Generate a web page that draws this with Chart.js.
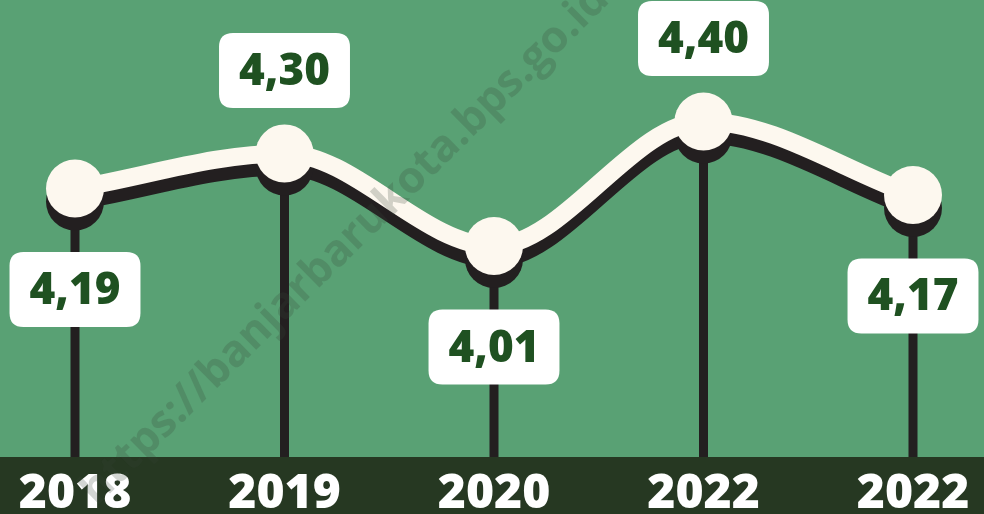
<!DOCTYPE html>
<html>
<head>
<meta charset="utf-8">
<script src="https://cdn.jsdelivr.net/npm/chart.js@4.4.1/dist/chart.umd.min.js"></script>
<style>
  html, body { margin: 0; padding: 0; background: #59a174; }
  #wrap { width: 984px; height: 514px; }
</style>
</head>
<body>
<div id="wrap"><canvas id="grafikCanvas"></canvas></div>
<script>
var tahun = ["2018", "2019", "2020", "2022", "2022"];
var nilai = [4.19, 4.30, 4.01, 4.40, 4.17];

var hijau = "#59a174";
var pita = "#263822";
var krem = "#fdf8ef";
var gelap = "#231f20";
var teksHijau = "#1f5121";
var hurufUtama = "'Open Sans', 'DejaVu Sans', sans-serif";

function formatNilai(v) {
  return v.toFixed(2).replace(".", ",");
}

// latar, pita bawah, garis tegak
var latarPlugin = {
  id: "latar",
  beforeDraw: function (chart) {
    var c = chart.ctx;
    var area = chart.chartArea;
    c.save();
    c.fillStyle = hijau;
    c.fillRect(0, 0, chart.width, chart.height);
    c.fillStyle = pita;
    c.fillRect(0, area.bottom, chart.width, chart.height - area.bottom);
    c.restore();
  },
  beforeDatasetsDraw: function (chart) {
    var c = chart.ctx;
    var area = chart.chartArea;
    var titik = chart.getDatasetMeta(1).data;
    c.save();
    c.strokeStyle = gelap;
    c.lineWidth = 9;
    titik.forEach(function (p) {
      c.beginPath();
      c.moveTo(p.x, p.y);
      c.lineTo(p.x, area.bottom);
      c.stroke();
    });
    c.restore();
  }
};

// bayangan digeser ke bawah
var bayanganPlugin = {
  id: "bayangan",
  beforeDatasetDraw: function (chart, args) {
    if (args.index === 0) {
      chart.ctx.save();
      chart.ctx.translate(0, 13);
    }
  },
  afterDatasetDraw: function (chart, args) {
    if (args.index === 0) {
      chart.ctx.restore();
    }
  }
};

function kotakBulat(c, x, y, w, h, r) {
  c.beginPath();
  c.moveTo(x + r, y);
  c.lineTo(x + w - r, y);
  c.quadraticCurveTo(x + w, y, x + w, y + r);
  c.lineTo(x + w, y + h - r);
  c.quadraticCurveTo(x + w, y + h, x + w - r, y + h);
  c.lineTo(x + r, y + h);
  c.quadraticCurveTo(x, y + h, x, y + h - r);
  c.lineTo(x, y + r);
  c.quadraticCurveTo(x, y, x + r, y);
  c.closePath();
}

var labelPlugin = {
  id: "labelNilai",
  afterDatasetsDraw: function (chart) {
    var c = chart.ctx;
    var titik = chart.getDatasetMeta(1).data;
    c.save();
    c.font = "800 44px " + hurufUtama;
    c.textAlign = "center";
    c.textBaseline = "middle";
    titik.forEach(function (p, i) {
      var kiri = i > 0 ? nilai[i - 1] : -Infinity;
      var kanan = i < nilai.length - 1 ? nilai[i + 1] : -Infinity;
      var puncak = nilai[i] > kiri && nilai[i] > kanan;
      var teks = formatNilai(nilai[i]);
      var w = c.measureText(teks).width + 40;
      var h = 75;
      var cy = puncak ? p.y - 83 : p.y + 101;
      c.fillStyle = "#ffffff";
      kotakBulat(c, p.x - w / 2, cy - h / 2, w, h, 14);
      c.fill();
      c.fillStyle = teksHijau;
      c.fillText(teks, p.x, cy + 2);
    });
    c.restore();
  },
  afterDraw: function (chart) {
    var c = chart.ctx;
    c.save();
    c.translate(345, 245);
    c.rotate(-44.5 * Math.PI / 180);
    c.font = "700 44px " + hurufUtama;
    c.textAlign = "center";
    c.textBaseline = "middle";
    c.fillStyle = "rgba(55, 70, 55, 0.22)";
    c.fillText("https://banjarbarukota.bps.go.id", 0, 0);
    c.restore();
  }
};

var grafik = new Chart(document.getElementById("grafikCanvas"), {
  type: "line",
  data: {
    labels: tahun,
    datasets: [
      {
        label: "bayangan",
        data: nilai,
        order: 2,
        borderColor: gelap,
        borderWidth: 18,
        pointRadius: 29,
        pointBackgroundColor: gelap,
        pointBorderWidth: 0,
        cubicInterpolationMode: "monotone",
        clip: false
      },
      {
        label: "nilai",
        data: nilai,
        order: 1,
        borderColor: krem,
        borderWidth: 18,
        pointRadius: 29,
        pointBackgroundColor: krem,
        pointBorderWidth: 0,
        cubicInterpolationMode: "monotone",
        clip: false
      }
    ]
  },
  options: {
    responsive: true,
    maintainAspectRatio: false,
    animation: false,
    layout: {
      autoPadding: false,
      padding: { left: 75, right: 71, top: 0, bottom: -17 }
    },
    plugins: {
      legend: { display: false },
      tooltip: { enabled: false }
    },
    scales: {
      x: {
        offset: false,
        grid: { display: false, drawTicks: false },
        border: { display: false },
        ticks: {
          color: "#ffffff",
          padding: 13,
          maxRotation: 0,
          autoSkip: false,
          font: { family: hurufUtama, size: 48, weight: "800", lineHeight: 1.0 }
        }
      },
      y: {
        display: false,
        min: 3.35,
        max: 4.78
      }
    }
  },
  plugins: [latarPlugin, bayanganPlugin, labelPlugin]
});
</script>
</body>
</html>
